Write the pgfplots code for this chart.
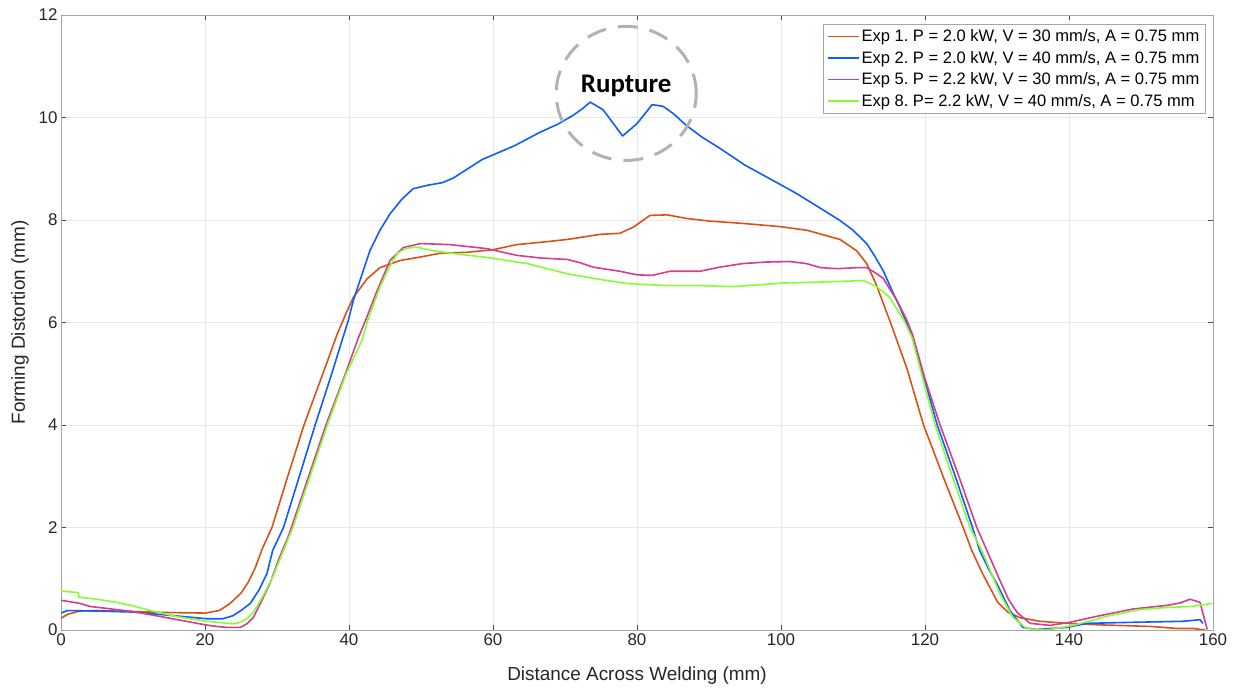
\documentclass[border=0pt]{standalone}
\usepackage{fontspec}
\setmainfont{Liberation Sans}
\newfontfamily\carlito{Carlito}
\usepackage{pgfplots}
\pgfplotsset{compat=1.18}
\pgfplotsset{legend image code/.code={\draw[#1,line width=1.6bp] (0bp,0bp) -- (31bp,0bp);}}
\frenchspacing
\definecolor{cA}{rgb}{0.851,0.325,0.098}
\definecolor{cB}{rgb}{0.06,0.36,1.0}
\definecolor{cC}{rgb}{0.84,0.24,0.55}
\definecolor{cD}{rgb}{0.52,1.0,0.2}
\begin{document}
\begin{tikzpicture}
\path[use as bounding box] (-61bp,-61bp) rectangle (1177bp,630bp);
\begin{axis}[
  at={(0,0)}, anchor=south west,
  scale only axis, width=1152bp, height=615bp,
  xmin=0, xmax=160, ymin=0, ymax=12,
  xtick={0,20,...,160}, ytick={0,2,...,12},
  /pgf/number format/assume math mode=true,
  axis line style={color=black!35, line width=0.8bp},
  tick style={color=black!70, line width=0.6bp},
  tick align=inside, major tick length=5bp,
  grid=major, grid style={color=black!9, line width=0.6bp},
  ticklabel style={font=\fontsize{17}{20}\selectfont, color=black!85},
  xlabel={Distance Across Welding (mm)},
  ylabel={Forming Distortion (mm)},
  label style={font=\fontsize{19}{22}\selectfont, color=black!85},
  x label style={at={(axis description cs:0.5,-0.0748)}, anchor=center},
  y label style={at={(axis description cs:-0.0356,0.5)}, anchor=center},
  legend style={at={(1,1)}, anchor=north east, xshift=-8bp, yshift=-9bp,
    draw=black!35, fill=white, font=\fontsize{16.6}{20}\selectfont,
    inner sep=3.5bp, row sep=4bp},
  legend cell align=left,
  every axis plot/.append style={line width=1.6bp, line join=round},
]
\addplot[cA] coordinates {(0,0.23)(1,0.31)(2.6,0.37)(5,0.38)(10,0.36)(15,0.34)(20,0.33)(22,0.38)(23.5,0.52)(25,0.72)(26,0.93)(27,1.22)(28,1.6)(29.3,2.0)(31.5,3.0)(33.75,4.0)(36.5,5.05)(38.3,5.75)(39.5,6.15)(40.6,6.49)(42.5,6.85)(44.3,7.07)(47.1,7.21)(50,7.28)(52.6,7.35)(56.4,7.37)(60,7.42)(63.3,7.52)(67,7.57)(70.3,7.62)(74.9,7.72)(77.6,7.74)(79.5,7.86)(81.8,8.09)(84.2,8.1)(86.9,8.03)(90,7.98)(95,7.93)(99.9,7.87)(103.6,7.8)(108.2,7.62)(110.5,7.4)(111.9,7.15)(113.2,6.75)(115.1,6.04)(117.5,5.1)(119.8,4.0)(122.5,3.0)(125.3,2.0)(126.5,1.55)(128,1.1)(130.1,0.54)(131.5,0.35)(133.2,0.24)(136,0.17)(139.7,0.13)(144.3,0.1)(151.25,0.07)(155,0.03)(157.2,0.03)(158.9,0)};
\addlegendentry{Exp 1. P = 2.0 kW, V = 30 mm/s, A = 0.75 mm}
\addplot[cB] coordinates {(0,0.33)(0.9,0.38)(5,0.37)(10,0.35)(15.6,0.28)(20.2,0.22)(22.5,0.22)(23.9,0.28)(25,0.38)(26.3,0.52)(27.5,0.78)(28.6,1.1)(29.4,1.55)(30.9,2.0)(33,2.95)(35.3,4.0)(37.6,5.0)(39.9,6.04)(40.6,6.43)(42.9,7.4)(44.3,7.8)(45.7,8.12)(47.3,8.4)(48.9,8.61)(51,8.68)(53,8.73)(54.5,8.82)(56.5,9.0)(58.5,9.18)(60,9.27)(63,9.45)(66.5,9.71)(69,9.87)(71.1,10.04)(72.5,10.18)(73.5,10.3)(75.3,10.15)(78,9.64)(80,9.88)(82.1,10.25)(83.6,10.22)(85,10.08)(86.9,9.84)(89,9.62)(91.5,9.4)(95,9.07)(98.9,8.77)(102,8.53)(105,8.27)(108.2,7.99)(110,7.8)(111.9,7.54)(113,7.3)(114.2,7.01)(115.5,6.6)(116.5,6.3)(117.3,6.04)(118.3,5.7)(120,4.85)(121.7,4.0)(124.2,3.0)(126.6,2.0)(127.6,1.55)(128.8,1.2)(130,0.9)(131.8,0.38)(133.6,0.05)(135.5,0.01)(139.7,0.05)(142.5,0.13)(148.9,0.15)(155.8,0.17)(158.2,0.2)(158.6,0.13)};
\addlegendentry{Exp 2. P = 2.0 kW, V = 40 mm/s, A = 0.75 mm}
\addplot[cC] coordinates {(0,0.58)(2.6,0.52)(4,0.46)(7,0.41)(10,0.36)(14.7,0.24)(19.3,0.12)(21,0.08)(23,0.05)(24.9,0.05)(25.8,0.12)(26.7,0.24)(27.8,0.55)(29,0.9)(30.3,1.4)(31.5,1.8)(32,2.0)(34.4,3.0)(36.8,4.0)(39.5,5.0)(41.3,5.7)(42.3,6.04)(43.9,6.62)(45.7,7.21)(47.5,7.46)(49.9,7.54)(54,7.52)(59.2,7.44)(63.3,7.31)(66.5,7.26)(70.3,7.23)(72,7.17)(73.9,7.08)(77.6,7.0)(80,6.93)(82.1,6.92)(84.6,7.0)(88.75,7.0)(91.5,7.08)(94.7,7.15)(98,7.18)(101.25,7.19)(103.5,7.15)(105.5,7.07)(107.8,7.05)(110.5,7.07)(111.9,7.07)(113,6.98)(114.2,6.86)(116.1,6.43)(117.5,6.04)(118.3,5.75)(120,4.9)(122.1,4.0)(124.7,3.0)(127.2,2.0)(128.6,1.55)(130.4,0.97)(131.6,0.6)(132.8,0.34)(134.6,0.13)(137.4,0.09)(140.1,0.15)(144.3,0.28)(148.9,0.41)(153.6,0.48)(155.5,0.53)(156.8,0.6)(158.2,0.54)(159.2,0.01)};
\addlegendentry{Exp 5. P = 2.2 kW, V = 30 mm/s, A = 0.75 mm}
\addplot[cD] coordinates {(0,0.76)(2.4,0.73)(2.5,0.64)(5,0.6)(7.7,0.54)(10,0.47)(12.4,0.38)(16.1,0.26)(20.2,0.17)(23.9,0.12)(24.9,0.15)(25.8,0.22)(26.7,0.34)(28,0.65)(29.4,1.03)(30.9,1.55)(32.2,2.0)(34.6,3.0)(37,4.0)(39.6,5.0)(41.8,5.65)(42.6,6.04)(44.3,6.69)(45.5,7.05)(46.7,7.35)(48,7.45)(49.4,7.47)(51.7,7.4)(55.4,7.33)(59.2,7.27)(64.7,7.15)(70.3,6.95)(74.9,6.84)(78.6,6.76)(84.2,6.72)(88.75,6.72)(93.3,6.7)(100.3,6.77)(108.2,6.8)(111.4,6.82)(113.3,6.7)(115.1,6.49)(117.1,6.04)(118.2,5.7)(119.8,4.85)(121.4,4.0)(123.8,3.0)(126.25,2.0)(127.9,1.55)(130.4,0.71)(132.2,0.25)(133.9,0.05)(135.5,0.0)(137.4,0.01)(140.6,0.09)(145.3,0.27)(149.9,0.4)(153.6,0.44)(157.2,0.46)(159.9,0.52)};
\addlegendentry{Exp 8. P= 2.2 kW, V = 40 mm/s, A = 0.75 mm}
\draw[black!30, line width=3bp, dash pattern=on 20bp off 12bp] (axis cs:78.5,10.47) ellipse [x radius=70bp, y radius=67bp];
\node[font=\carlito\bfseries\fontsize{27}{30}\selectfont, text=black] at (axis cs:78.5,10.62) {Rupture};
\end{axis}
\end{tikzpicture}
\end{document}
